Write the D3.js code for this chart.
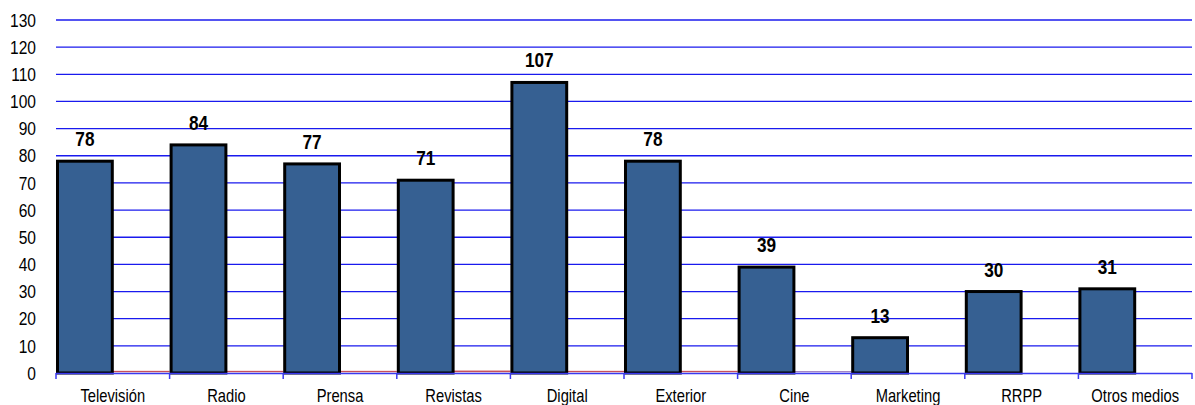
<!DOCTYPE html>
<html>
<head>
<meta charset="utf-8">
<script src="https://cdn.jsdelivr.net/npm/d3@7"></script>
<style>
  html, body { margin: 0; padding: 0; background: #fff; }
  svg { display: block; }
  text { font-family: "Liberation Sans", Arial, sans-serif; }
</style>
</head>
<body>
<svg id="chart" width="1195" height="405"></svg>
<script>
// Media categories and values
const categories = ["Televisión", "Radio", "Prensa", "Revistas", "Digital", "Exterior", "Cine", "Marketing", "RRPP", "Otros medios"];
const mainValues = [78, 84, 77, 71, 107, 78, 39, 13, 30, 31];
// Secondary series, near zero
const secondValues = [0.5, 0.5, 0.5, 0.6, 0.5, 0.5, 0.3, 0, 0, 0];
const yTicks = [0, 10, 20, 30, 40, 50, 60, 70, 80, 90, 100, 110, 120, 130];

const svg = d3.select("#chart");
const plotLeft = 56, plotRight = 1192, plotTop = 20, plotBottom = 373;
const narrow = 0.82; // condensed glyph width

const x = d3.scaleBand().domain(categories).range([plotLeft, plotRight]).padding(0);
const xs = d3.scaleBand().domain(["a", "b"]).range([0, x.bandwidth()]).padding(0);
const y = d3.scaleLinear().domain([0, 130]).range([plotBottom, plotTop]);

// Horizontal gridlines
svg.append("g")
  .selectAll("line")
  .data(yTicks.filter(d => d > 0))
  .join("line")
  .attr("x1", plotLeft).attr("x2", plotRight)
  .attr("y1", d => y(d)).attr("y2", d => y(d))
  .attr("stroke", "#1a1aee").attr("stroke-width", 1.3);

// Y axis labels
svg.append("g")
  .selectAll("text")
  .data(yTicks)
  .join("text")
  .attr("transform", d => `translate(36,${y(d)}) scale(${narrow},1)`)
  .attr("dy", "0.35em")
  .attr("text-anchor", "end")
  .attr("font-size", 19)
  .attr("fill", "#000")
  .text(d => d);

// Secondary series (thin marks at the baseline)
svg.append("g")
  .selectAll("rect")
  .data(categories.map((c, i) => ({ c, v: secondValues[i] })).filter(d => d.v > 0))
  .join("rect")
  .attr("x", d => x(d.c) + xs("b"))
  .attr("width", xs.bandwidth())
  .attr("y", d => y(d.v) - 0.8)
  .attr("height", d => y(0) - y(d.v))
  .attr("fill", d => d.v < 0.4 ? "#6a3aa0" : "#c8505a");

// Main bars
const bars = categories.map((c, i) => ({ c, v: mainValues[i] }));
svg.append("g")
  .selectAll("rect")
  .data(bars)
  .join("rect")
  .attr("x", d => x(d.c) + xs("a") + 1.5)
  .attr("width", xs.bandwidth() - 2)
  .attr("y", d => y(d.v))
  .attr("height", d => y(0) - y(d.v))
  .attr("fill", "#366092")
  .attr("stroke", "#000")
  .attr("stroke-width", 3);

// Value labels
svg.append("g")
  .selectAll("text")
  .data(bars)
  .join("text")
  .attr("transform", d => `translate(${x(d.c) + xs("a") + 1.5 + (xs.bandwidth() - 2) / 2},${y(d.v) - 15}) scale(${narrow},1)`)
  .attr("text-anchor", "middle")
  .attr("font-size", 21)
  .attr("font-weight", "bold")
  .attr("fill", "#000")
  .text(d => d.v);

// X axis line and category ticks
const xAxis = svg.append("g");
xAxis.append("line")
  .attr("x1", plotLeft).attr("x2", plotRight)
  .attr("y1", plotBottom + 0.5).attr("y2", plotBottom + 0.5)
  .attr("stroke", "#3a3af0").attr("stroke-width", 1.5);
xAxis.selectAll("line.tick")
  .data(categories.map(c => x(c)).concat([plotRight]))
  .join("line")
  .attr("class", "tick")
  .attr("x1", d => d).attr("x2", d => d)
  .attr("y1", plotBottom).attr("y2", plotBottom + 6)
  .attr("stroke", "#3a3af0").attr("stroke-width", 1.5);
xAxis.selectAll("text")
  .data(categories)
  .join("text")
  .attr("transform", d => `translate(${x(d) + x.bandwidth() / 2},402) scale(${narrow},1)`)
  .attr("text-anchor", "middle")
  .attr("font-size", 18)
  .attr("fill", "#000")
  .text(d => d);
</script>
</body>
</html>
